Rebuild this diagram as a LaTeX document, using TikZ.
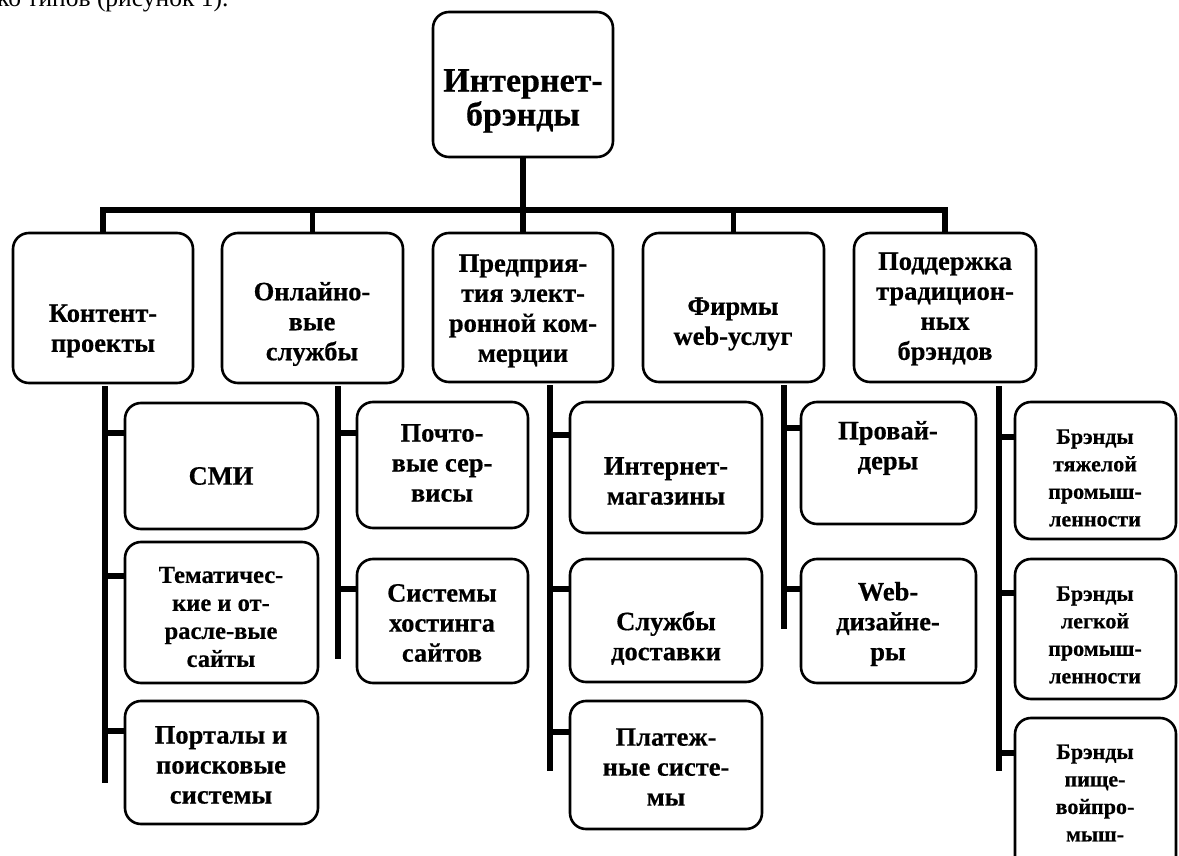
\documentclass[tikz,border=0pt]{standalone}
\usepackage{fontspec}
\setmainfont{Liberation Serif}[BoldFeatures={FakeBold=0.5}]
\newcommand\mkbox[5]{% name, left, top, right, bottom
  \node[boxst, minimum width={(#4-#2)*1pt}, minimum height={(#5-#3)*1pt}] (#1) at ({(#2+#4)/2},{(#3+#5)/2}) {};}
\begin{document}
\begin{tikzpicture}[x=1pt,y=-1pt,
  boxst/.style={draw, line width=2.6pt, rounded corners=16pt, inner sep=0pt},
  rootfont/.style={font=\bfseries\fontsize{34}{34}\selectfont, align=center, inner sep=0pt},
  midfont/.style={font=\bfseries\fontsize{26.5}{30}\selectfont, align=center, inner sep=0pt},
  leaffont/.style={font=\bfseries\fontsize{26.5}{30}\selectfont, align=center, inner sep=0pt},
  smallfont/.style={font=\bfseries\fontsize{22}{27.5}\selectfont, align=center, inner sep=0pt},
  bar/.style={line width=5.5pt},
  twig/.style={line width=6pt}
]
\useasboundingbox (0,0) rectangle (1179,856);
\fill[white] (0,0) rectangle (1179,856);

% cropped line of running text at the top
\node[anchor=base west, inner sep=0pt, font=\fontsize{25.5}{28}\selectfont] (head) at (-3,7) {ко типов (рисунок 1).};

% root
\mkbox{root}{433}{12}{613}{157}
\node[rootfont] (roott) at (523,101) {Интернет-\\брэнды};

% level 2
\mkbox{k1}{13}{233}{193}{383}
\mkbox{k2}{222}{233}{403}{383}
\mkbox{k3}{433}{233}{613}{382}
\mkbox{k4}{643}{233}{824}{382}
\mkbox{k5}{854}{233}{1036}{382}
\node[midfont] (k1t) at (103,331) {Контент-\\проекты};
\node[midfont] (k2t) at (312,324) {Онлайно-\\вые\\службы};
\node[midfont] (k3t) at (523,311) {Предприя-\\тия элект-\\ронной ком-\\мерции};
\node[midfont] (k4t) at (733,324) {Фирмы\\web-услуг};
\node[midfont] (k5t) at (945,309) {Поддержка\\традицион-\\ных\\брэндов};

% bus
\coordinate (bus) at (523,210);
\draw[bar] (root.south) -- (bus);
\draw[bar] (k1.north) -- (k1.north |- bus) -- (k5.north |- bus) -- (k5.north);
\draw[bar] (k2.north |- bus) -- (k2.north);
\draw[bar] (k3.north |- bus) -- (k3.north);
\draw[bar] (k4.north |- bus) -- (k4.north);

% column 1
\mkbox{c11}{125}{403}{318}{529}
\mkbox{c12}{125}{542}{318}{683}
\mkbox{c13}{125}{701}{318}{824}
\node[leaffont] (c11t) at (221,476) {СМИ};
\node[leaffont, font=\bfseries\fontsize{24.5}{28}\selectfont] (c12t) at (221,617) {Тематичес-\\кие и от-\\расле-вые\\сайты};
\node[leaffont] (c13t) at (221,765) {Порталы и\\поисковые\\системы};

% column 2
\mkbox{c21}{357}{402}{528}{528}
\mkbox{c22}{357}{559}{528}{683}
\node[leaffont] (c21t) at (442,463) {Почто-\\вые сер-\\висы};
\node[leaffont] (c22t) at (442,623) {Системы\\хостинга\\сайтов};

% column 3
\mkbox{c31}{570}{402}{762}{533}
\mkbox{c32}{570}{559}{762}{682}
\mkbox{c33}{570}{701}{762}{829}
\node[leaffont] (c31t) at (666,481) {Интернет-\\магазины};
\node[leaffont] (c32t) at (666,638) {Службы\\доставки};
\node[leaffont] (c33t) at (666,767) {Платеж-\\ные систе-\\мы};

% column 4
\mkbox{c41}{801}{402}{976}{524}
\mkbox{c42}{801}{559}{976}{683}
\node[leaffont] (c41t) at (888,448) {Провай-\\деры};
\node[leaffont] (c42t) at (888,624) {Web-\\дизайне-\\ры};

% column 5
\mkbox{c51}{1015}{402}{1176}{539}
\mkbox{c52}{1015}{559}{1176}{699}
\mkbox{c53}{1015}{718}{1176}{900}
\node[smallfont] (c51t) at (1095,478) {Брэнды\\тяжелой\\промыш-\\ленности};
\node[smallfont] (c52t) at (1095,635) {Брэнды\\легкой\\промыш-\\ленности};
\node[smallfont] (c53t) at (1095,793) {Брэнды\\пище-\\войпро-\\мыш-};

% spines
\coordinate (s1t) at (105,386);  \coordinate (s1b) at (105,783);
\coordinate (s2t) at (338,386);  \coordinate (s2b) at (338,659);
\coordinate (s3t) at (550,385);  \coordinate (s3b) at (550,771);
\coordinate (s4t) at (784,385);  \coordinate (s4b) at (784,629);
\coordinate (s5t) at (999,386);  \coordinate (s5b) at (999,771);
\foreach \s in {1,...,5}{\draw[bar] (s\s t) -- (s\s b);}

% branch points on spines
\coordinate (b11) at (105,433); \coordinate (b12) at (105,576); \coordinate (b13) at (105,731);
\coordinate (b21) at (338,433); \coordinate (b22) at (338,589);
\coordinate (b31) at (550,435); \coordinate (b32) at (550,589); \coordinate (b33) at (550,732);
\coordinate (b41) at (784,428); \coordinate (b42) at (784,589);
\coordinate (b51) at (999,437); \coordinate (b52) at (999,593); \coordinate (b53) at (999,753);
\foreach \c in {11,12,13,21,22,31,32,33,41,42,51,52,53}{
  \draw[twig] (b\c) -- (b\c -| c\c.west);}
\end{tikzpicture}
\end{document}
